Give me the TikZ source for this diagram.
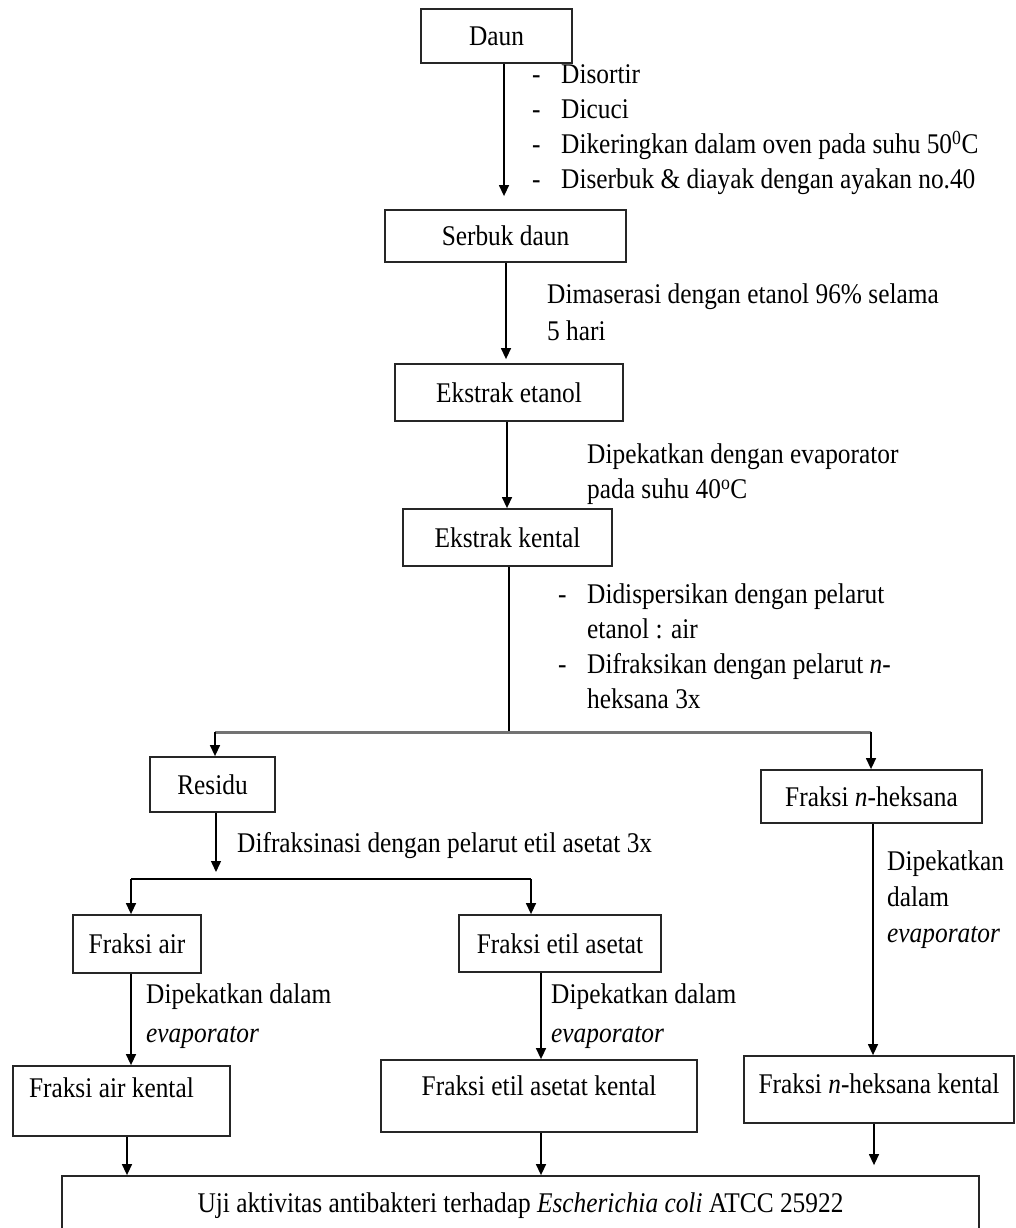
\documentclass[tikz,border=0pt]{standalone}
\usepackage{fontspec}
\setmainfont{Liberation Serif}[FakeStretch=0.89]
\usetikzlibrary{arrows.meta}
\newcommand{\itm}[1]{\makebox[29pt][l]{-}#1}
\newcommand{\itc}[1]{\hspace*{29pt}#1}

\begin{document}
\begin{tikzpicture}[x=1pt, y=-1pt,
    box/.style={draw=black!85, line width=1.8pt, inner sep=0pt, font=\fontsize{28.5}{35}\selectfont},
    txt/.style={anchor=north west, align=left, inner sep=0pt, font=\fontsize{28.5}{35}\selectfont},
    arr/.style={line width=1.4pt, -{Triangle[length=11pt,width=10pt]}},
    ln/.style={line width=1.4pt},
    bar/.style={line width=3pt, draw=black!55}]
  \useasboundingbox (0,0) rectangle (1016,1228);
  \clip (0,0) rectangle (1016,1228);

  % kotak
  \foreach \n/\x/\y/\w/\h/\t in {daun/496.5/36/151/54/Daun, serbuk/505.5/236/241/52/Serbuk daun,
      etanol/509/392.5/228/57/Ekstrak etanol, kental/507.5/537.5/209/57/Ekstrak kental,
      residu/212.5/784.5/125/55/Residu, heksana/871.5/796.5/221/53/Fraksi \textit{n}-heksana,
      air/137/944/128/58/Fraksi air, etil/560/943.5/202/57/Fraksi etil asetat} {
    \node[box, minimum width=\w, minimum height=\h] (\n) at (\x,\y) {\t};
  }
  \node[box, minimum width=217, text height=31pt, text depth=39pt] (airkental) at (121.5,1101) {\makebox[185pt][l]{Fraksi air kental}};
  \node[box, minimum width=316, text height=35pt, text depth=37pt] (etilkental) at (539,1096) {Fraksi etil asetat kental};
  \node[box, minimum width=270, text height=37pt, text depth=30pt] (heksanakental) at (879,1089.5) {Fraksi \textit{n}-heksana kental};
  \node[box, minimum width=917, text height=36pt, text depth=48pt] (uji) at (520.5,1218) {Uji aktivitas antibakteri terhadap \textit{Escherichia coli} ATCC 25922};

  % keterangan
  \node[txt] (tdaun) at (532,64.5) {\itm{Disortir}\\\itm{Dicuci}\\\itm{Dikeringkan dalam oven pada suhu 50\textsuperscript{0}C}\\\itm{Diserbuk \& diayak dengan ayakan no.40}};
  \node[txt, font=\fontsize{28.5}{37}\selectfont] (tmaserasi) at (547,283.5) {Dimaserasi dengan etanol 96\% selama\\5 hari};
  \node[txt] (tpekat) at (587,443.5) {Dipekatkan dengan evaporator\\pada suhu 40\textsuperscript{o}C};
  \node[txt] (tfraksi) at (558,583.5) {\itm{Didispersikan dengan pelarut}\\\itc{etanol : air}\\\itm{Difraksikan dengan pelarut \textit{n}-}\\\itc{heksana 3x}};
  \node[txt] (tetil) at (237,832.5) {Difraksinasi dengan pelarut etil asetat 3x};
  \node[txt, font=\fontsize{28.5}{39}\selectfont] (tair) at (146,983.5) {Dipekatkan dalam\\\textit{evaporator}};
  \node[txt, font=\fontsize{28.5}{39}\selectfont] (tetilp) at (551,983.5) {Dipekatkan dalam\\\textit{evaporator}};
  \node[txt, font=\fontsize{28.5}{36}\selectfont] (theks) at (887,850.5) {Dipekatkan\\dalam\\\textit{evaporator}};

  % panah
  \draw[arr, shorten >=13pt] (daun.south -| 504,0) -- (serbuk.north -| 504,0);
  \draw[arr, shorten >=4pt] (serbuk.south -| 506,0) -- (etanol.north -| 506,0);
  \draw[arr] (etanol.south -| 507,0) -- (kental.north -| 507,0);

  \coordinate (sp) at (509,732);
  \coordinate (spl) at (215,732);
  \coordinate (spr) at (871,732);
  \draw[ln] (kental.south -| sp) -- (sp);
  \draw[bar] (spl) -- (spr);
  \draw[arr] (spl) -- (residu.north -| spl);
  \draw[arr] (spr) -- (heksana.north -| spr);

  \coordinate (sp2) at (216,879);
  \coordinate (sp2l) at (131,879);
  \coordinate (sp2r) at (531,879);
  \draw[arr, shorten >=7pt] (residu.south -| sp2) -- (sp2);
  \draw[ln] (sp2l) -- (sp2r);
  \draw[arr] (sp2l) -- (air.north -| sp2l);
  \draw[arr] (sp2r) -- (etil.north -| sp2r);

  \draw[arr] (air.south -| 131,0) -- (airkental.north -| 131,0);
  \draw[arr] (etil.south -| 541,0) -- (etilkental.north -| 541,0);
  \draw[arr] (heksana.south -| 873,0) -- (heksanakental.north -| 873,0);

  \draw[arr] (airkental.south -| 127,0) -- (uji.north -| 127,0);
  \draw[arr] (etilkental.south -| 541,0) -- (uji.north -| 541,0);
  \draw[arr, shorten >=10pt] (heksanakental.south -| 874,0) -- (uji.north -| 874,0);
\end{tikzpicture}
\end{document}
